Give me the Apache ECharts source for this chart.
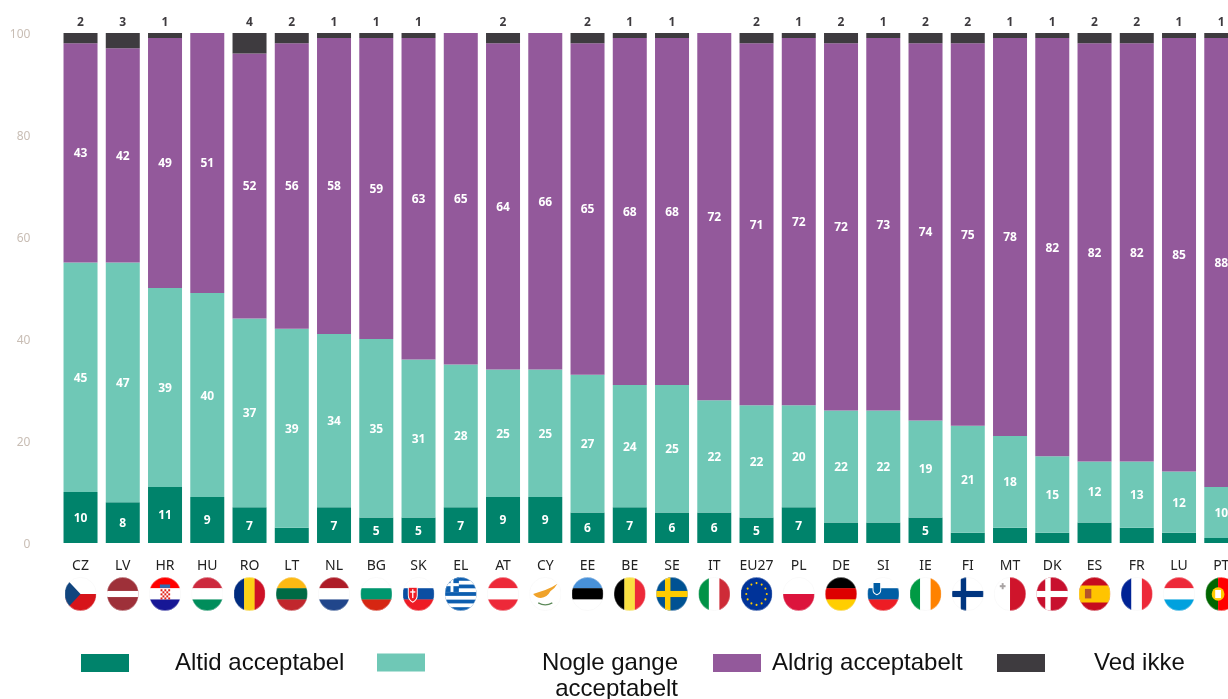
<!DOCTYPE html>
<html>
<head>
<meta charset="utf-8">
<title>Acceptabel</title>
<style>
html, body { margin: 0; padding: 0; background: #fff; overflow: hidden; }
#main { width: 1228px; height: 699px; }
</style>
<script src="https://cdn.jsdelivr.net/npm/echarts@6/dist/echarts.min.js"></script>
</head>
<body>
<div id="main"></div>
<script>
var countries = ['CZ', 'LV', 'HR', 'HU', 'RO', 'LT', 'NL', 'BG', 'SK', 'EL', 'AT', 'CY', 'EE', 'BE', 'SE', 'IT', 'EU27', 'PL', 'DE', 'SI', 'IE', 'FI', 'MT', 'DK', 'ES', 'FR', 'LU', 'PT'];
var altid = [10, 8, 11, 9, 7, 3, 7, 5, 5, 7, 9, 9, 6, 7, 6, 6, 5, 7, 4, 4, 5, 2, 3, 2, 4, 3, 2, 1];
var nogle = [45, 47, 39, 40, 37, 39, 34, 35, 31, 28, 25, 25, 27, 24, 25, 22, 22, 20, 22, 22, 19, 21, 18, 15, 12, 13, 12, 10];
var aldrig = [43, 42, 49, 51, 52, 56, 58, 59, 63, 65, 64, 66, 65, 68, 68, 72, 71, 72, 72, 73, 74, 75, 78, 82, 82, 82, 85, 88];
var vedIkke = [2, 3, 1, 0, 4, 2, 1, 1, 1, 0, 2, 0, 2, 1, 1, 0, 2, 1, 2, 1, 2, 2, 1, 1, 2, 2, 1, 1];
var yTicks = [0, 20, 40, 60, 80, 100];

var GREEN = '#00836b', MINT = '#6fc8b6', PURPLE = '#93599b', DARK = '#3e3b3f';

// flag helpers, drawn on a 100x100 box and clipped to a circle
function rect(x, y, w, h, c) {
    return '<rect x="' + x + '" y="' + y + '" width="' + w + '" height="' + h + '" fill="' + c + '"/>';
}
function hBands(a, b, c) {
    return rect(0, 0, 100, 34, a) + rect(0, 33, 100, 34, b) + rect(0, 66, 100, 34, c);
}
function vBands(a, b, c) {
    return rect(0, 0, 34, 100, a) + rect(33, 0, 34, 100, b) + rect(66, 0, 34, 100, c);
}
function cross(bg, fg) {
    return rect(0, 0, 100, 100, bg) + rect(28, 0, 17, 100, fg) + rect(0, 41, 100, 18, fg);
}
function croatia() {
    var s = hBands('#f00', '#fff', '#171796');
    for (var r = 0; r < 5; r++) {
        for (var c = 0; c < 5; c++) {
            if ((r + c) % 2 == 0) s += rect(36 + c * 6, 36 + r * 6, 6, 6, '#e2231a');
        }
    }
    return s + rect(34, 22, 32, 10, '#2d6db5');
}
function greece() {
    var s = rect(0, 0, 100, 100, '#0d5eaf');
    for (var i = 1; i < 9; i += 2) s += rect(0, i * 11.1, 100, 11.1, '#fff');
    return s + rect(0, 0, 44, 44, '#0d5eaf') + rect(18, 0, 9, 44, '#fff') + rect(0, 18, 44, 9, '#fff');
}
function euStars() {
    var s = rect(0, 0, 100, 100, '#003399');
    for (var i = 0; i < 12; i++) {
        var a = i * Math.PI / 6;
        s += '<circle cx="' + (50 + 32 * Math.cos(a)) + '" cy="' + (50 + 32 * Math.sin(a)) + '" r="3.2" fill="#ffcc00"/>';
    }
    return s;
}
var shieldSK = '<path d="M18 30h28v24q0 14-14 20q-14-6-14-20z" fill="#ee1c25" stroke="#fff" stroke-width="3"/>' + rect(30, 36, 4, 26, '#fff') + rect(24, 42, 16, 4, '#fff');
var flags = {
    CZ: rect(0, 0, 100, 50, '#fff') + rect(0, 50, 100, 50, '#d7141a') + '<path d="M0 0L50 50L0 100z" fill="#11457e"/>',
    LV: rect(0, 0, 100, 100, '#9e3039') + rect(0, 41, 100, 18, '#fff'),
    HR: croatia(),
    HU: hBands('#cd2a3e', '#fff', '#008d5b'),
    RO: vBands('#002b7f', '#fcd116', '#ce1126'),
    LT: hBands('#fdb913', '#006a44', '#c1272d'),
    NL: hBands('#ae1c28', '#fff', '#21468b'),
    BG: hBands('#fff', '#00966e', '#d62612'),
    SK: hBands('#fff', '#0b4ea2', '#ee1c25') + shieldSK,
    EL: greece(),
    AT: hBands('#ed2939', '#fff', '#ed2939'),
    CY: rect(0, 0, 100, 100, '#fff') + '<path d="M12 50Q30 44 50 38Q70 32 88 20Q78 36 66 42Q56 60 36 62Q22 62 12 50z" fill="#f0a32a"/><path d="M28 76Q50 88 72 76" fill="none" stroke="#5d8a5a" stroke-width="4"/>',
    EE: hBands('#4891d9', '#000', '#fff'),
    BE: vBands('#000', '#fae042', '#ed2939'),
    SE: cross('#005293', '#fecb00'),
    IT: vBands('#009246', '#fff', '#ce2b37'),
    EU27: euStars(),
    PL: rect(0, 0, 100, 50, '#fff') + rect(0, 50, 100, 50, '#dc143c'),
    DE: hBands('#000', '#dd0000', '#ffce00'),
    SI: hBands('#fff', '#005da4', '#ed1c24') + '<path d="M18 16h24v22q0 10-12 14q-12-4-12-14z" fill="#005da4" stroke="#fff" stroke-width="3"/>',
    IE: vBands('#009a44', '#fff', '#ff8200'),
    FI: cross('#fff', '#003580'),
    MT: rect(0, 0, 50, 100, '#fff') + rect(50, 0, 50, 100, '#cf142b') + rect(24, 18, 6, 18, '#a9a4a4') + rect(18, 24, 18, 6, '#a9a4a4'),
    DK: cross('#c8102e', '#fff'),
    ES: rect(0, 0, 100, 100, '#c60b1e') + rect(0, 25, 100, 50, '#ffc400') + rect(20, 35, 20, 28, '#b5542a'),
    FR: vBands('#002395', '#fff', '#ed2939'),
    LU: hBands('#ed2939', '#fff', '#00a1de'),
    PT: rect(0, 0, 40, 100, '#006600') + rect(40, 0, 60, 100, '#ff0000') + '<circle cx="40" cy="50" r="20" fill="#ffcc00"/>' + rect(31, 38, 18, 24, '#fff')
};

function flagUri(code) {
    var svg = '<svg xmlns="http://www.w3.org/2000/svg" width="32" height="34" viewBox="0 0 100 100" preserveAspectRatio="none">' +
        '<defs><clipPath id="c"><circle cx="50" cy="50" r="49.5"/></clipPath></defs>' +
        '<g clip-path="url(#c)">' + flags[code] + '</g>' +
        '<circle cx="50" cy="50" r="49" fill="none" stroke="#efefef" stroke-width="1"/></svg>';
    return 'data:image/svg+xml;charset=utf-8,' + encodeURIComponent(svg);
}

var axisRich = {
    code: {
        fontFamily: 'Noto Sans',
        fontSize: 14,
        color: '#222',
        lineHeight: 20,
        padding: [0, 0, 2, 0]
    }
};
countries.forEach(function(code) {
    axisRich['f' + code] = {
        width: 32,
        height: 34,
        backgroundColor: { image: flagUri(code) }
    };
});

function inBar(minValue) {
    return {
        show: true,
        position: 'inside',
        color: '#fff',
        fontFamily: 'Noto Sans',
        fontWeight: 'bold',
        fontSize: 12,
        offset: [0, 1],
        formatter: function(p) {
            return p.value >= minValue ? p.value : '';
        }
    };
}

function getSeries() {
    var base = { type: 'bar', stack: 'total', barWidth: 34 };
    return [
        Object.assign({ name: 'Altid acceptabel', data: altid, itemStyle: { color: GREEN }, label: inBar(5) }, base),
        Object.assign({ name: 'Nogle gange acceptabelt', data: nogle, itemStyle: { color: MINT }, label: inBar(1) }, base),
        Object.assign({ name: 'Aldrig acceptabelt', data: aldrig, itemStyle: { color: PURPLE }, label: inBar(1) }, base),
        Object.assign({
            name: 'Ved ikke',
            data: vedIkke,
            itemStyle: { color: DARK },
            label: {
                show: true,
                position: 'top',
                distance: 4,
                color: DARK,
                fontFamily: 'Noto Sans',
                fontWeight: 'bold',
                fontSize: 12,
                formatter: function(p) {
                    return p.value > 0 ? p.value : '';
                }
            }
        }, base)
    ];
}

// one legend per entry, the reference has uneven gaps
function legendItem(name, left, textGap, formatter, rich) {
    return {
        data: [name],
        left: left,
        top: 651,
        padding: 0,
        icon: 'rect',
        itemWidth: 48,
        itemHeight: 18,
        selectedMode: false,
        formatter: formatter || '{name}',
        textStyle: {
            fontFamily: 'Liberation Sans',
            fontSize: 24,
            color: '#111',
            padding: rich ? [27, 0, 0, textGap] : [2, 0, 0, textGap],
            rich: rich
        }
    };
}

var option = {
    animation: false,
    backgroundColor: '#fff',
    grid: { left: 59.4, top: 33, width: 1183, height: 510, outerBoundsMode: 'none' },
    xAxis: {
        type: 'category',
        data: countries,
        axisLine: { show: false },
        axisTick: { show: false },
        axisLabel: {
            interval: 0,
            margin: 14,
            formatter: function(v) {
                return '{code|' + v + '}\n{f' + v + '|}';
            },
            rich: axisRich
        }
    },
    yAxis: {
        type: 'value',
        min: yTicks[0],
        max: yTicks[yTicks.length - 1],
        interval: yTicks[1] - yTicks[0],
        splitLine: { show: false },
        axisLine: { show: false },
        axisTick: { show: false },
        axisLabel: {
            margin: 29,
            formatter: '{t|{value}}',
            rich: {
                t: {
                    color: '#c8bdb4',
                    fontFamily: 'Noto Sans',
                    fontSize: 12,
                    padding: [4, 0, 0, 0]
                }
            }
        }
    },
    legend: [
        legendItem('Altid acceptabel', 81, 41),
        legendItem('Nogle gange acceptabelt', 377, 112, function() {
            return '{c|Nogle gange}\n{c|acceptabelt}';
        }, {
            c: { width: 136, align: 'right', fontFamily: 'Liberation Sans', fontSize: 24, color: '#111', lineHeight: 26 }
        }),
        legendItem('Aldrig acceptabelt', 713, 6),
        legendItem('Ved ikke', 997, 44)
    ],
    series: getSeries()
};

var chart = echarts.init(document.getElementById('main'));
chart.setOption(option);
</script>
</body>
</html>
